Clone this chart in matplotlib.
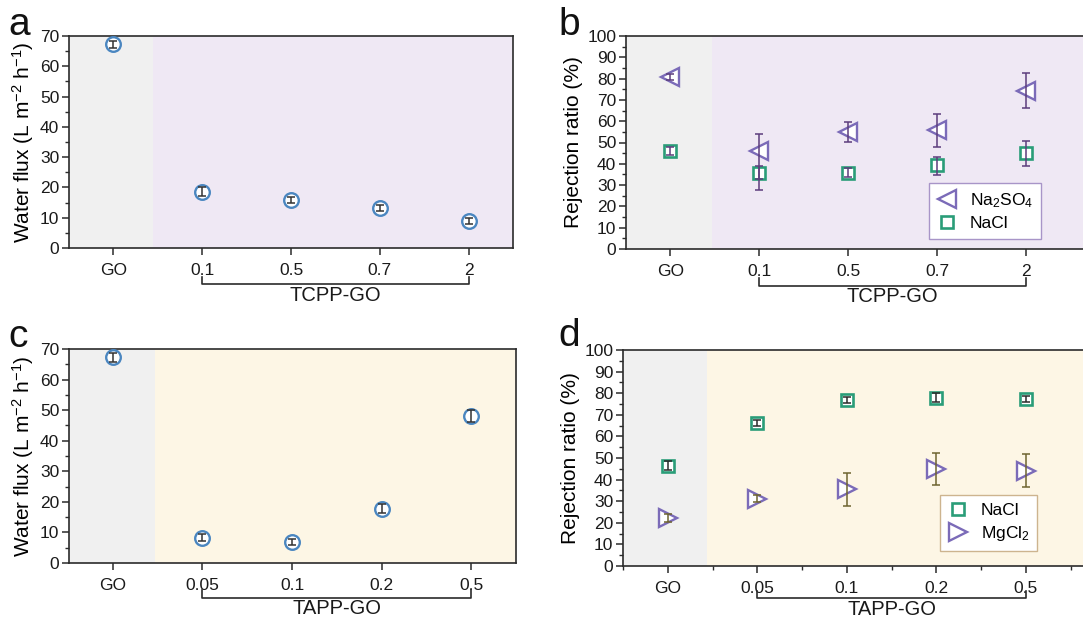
#!/usr/bin/env python3
import numpy as np
import matplotlib.pyplot as plt
from matplotlib.ticker import MultipleLocator
import matplotlib.transforms as mtransforms

plt.rcParams['font.family'] = ['Liberation Sans', 'DejaVu Sans']
plt.rcParams['mathtext.default'] = 'regular'

# ---- data ----
tcpp_labels = ['GO', '0.1', '0.5', '0.7', '2']
tapp_labels = ['GO', '0.05', '0.1', '0.2', '0.5']

# (a) water flux, TCPP-GO
flux_tcpp = [67.3, 18.6, 15.7, 13.3, 9.0]
flux_tcpp_err = [1.2, 1.5, 1.0, 1.0, 1.0]

# (b) rejection, TCPP-GO
na2so4_tcpp = [80.8, 45.8, 55.0, 55.9, 74.4]
na2so4_tcpp_lo = [1.5, 18.0, 4.8, 7.8, 8.3]
na2so4_tcpp_hi = [1.5, 8.1, 4.7, 7.4, 8.1]
nacl_tcpp = [46.1, 35.9, 35.9, 39.4, 45.0]
nacl_tcpp_lo = [2.0, 3.0, 2.0, 4.6, 5.9]
nacl_tcpp_hi = [2.0, 3.0, 2.0, 4.0, 5.6]

# (c) water flux, TAPP-GO
flux_tapp = [67.3, 8.3, 7.0, 17.7, 48.2]
flux_tapp_err = [1.5, 1.2, 1.0, 1.5, 2.0]

# (d) rejection, TAPP-GO
nacl_tapp = [46.4, 66.2, 76.8, 77.9, 77.3]
nacl_tapp_err = [2.0, 1.5, 1.5, 2.0, 1.5]
mgcl2_tapp = [22.3, 31.2, 35.5, 44.8, 44.2]
mgcl2_tapp_lo = [2.0, 1.5, 7.7, 7.2, 7.7]
mgcl2_tapp_hi = [2.0, 1.5, 7.5, 7.3, 7.7]

GRAY_BG = '#f0f0f0'
PURPLE_BG = '#efe8f4'
CREAM_BG = '#fdf6e5'
BLUE = '#4a86c0'
PURPLE = '#7b6bb8'
GREEN = '#2a9d78'
SPINE = '#2b2b2b'


def style_axes(ax, xlim, ylim, ymaj, split, bg, full_right=True, xminor=False):
    ax.set_xlim(*xlim)
    ax.set_ylim(*ylim)
    ax.axvspan(xlim[0], split, color=GRAY_BG, lw=0, zorder=0)
    ax.axvspan(split, xlim[1], color=bg, lw=0, zorder=0)
    ax.yaxis.set_major_locator(MultipleLocator(ymaj))
    ax.yaxis.set_minor_locator(MultipleLocator(ymaj / 2))
    if xminor:
        ax.xaxis.set_minor_locator(MultipleLocator(0.5))
    ax.tick_params(which='major', direction='out', length=5, width=1.1,
                   colors=SPINE, labelsize=12.5, labelcolor='#1a1a1a')
    ax.tick_params(which='minor', direction='out', length=2.8, width=1.0, colors=SPINE)
    ax.tick_params(axis='x', pad=6)
    ax.tick_params(axis='y', pad=2)
    for s in ax.spines.values():
        s.set_color(SPINE)
        s.set_linewidth(1.2)
    if not full_right:
        ax.spines['right'].set_visible(False)


def bracket(ax, x0, x1, label, line_y=-0.172, text_y=-0.222):
    trans = mtransforms.blended_transform_factory(ax.transData, ax.transAxes)
    ax.plot([x0, x0, x1, x1], [line_y + 0.035, line_y, line_y, line_y + 0.035],
            color=SPINE, lw=1.2, transform=trans, clip_on=False)
    ax.text((x0 + x1) / 2, text_y, label, transform=trans, ha='center', va='center',
            fontsize=14.5, color='#1a1a1a')


def main():
    fig = plt.figure(figsize=(10.83, 6.21), dpi=100)
    W, H = 1083, 621

    def add_ax(l, t, r, b):
        return fig.add_axes([l / W, 1 - b / H, (r - l) / W, (b - t) / H])

    ax_a = add_ax(69, 36, 513, 248)
    ax_b = add_ax(626, 36, 1084, 249)
    ax_c = add_ax(69, 349, 516, 563)
    ax_d = add_ax(623, 350, 1084, 566)

    x = np.arange(5)

    # (a)
    style_axes(ax_a, (-0.5, 4.5), (0, 70), 10, 0.45, PURPLE_BG)
    ax_a.plot(x, flux_tcpp, 'o', ms=10.5, mfc='white', mec=BLUE, mew=1.7, zorder=3)
    ax_a.errorbar(x, flux_tcpp, yerr=flux_tcpp_err, fmt='none', ecolor='#333333',
                  elinewidth=1.1, capsize=3, capthick=1.1, zorder=4)
    ax_a.set_xticks(x)
    ax_a.set_xticklabels(tcpp_labels)
    ax_a.set_ylabel('Water flux (L m$^{-2}$ h$^{-1}$)', fontsize=15, labelpad=3)
    bracket(ax_a, 1, 4, 'TCPP-GO')

    # (b)
    style_axes(ax_b, (-0.5, 4.65), (0, 100), 10, 0.47, PURPLE_BG, full_right=False)
    ax_b.plot(x, na2so4_tcpp, '<', ms=12.5, mfc='white', mec=PURPLE, mew=1.7,
              zorder=3, label='Na$_2$SO$_4$')
    ax_b.plot(x, nacl_tcpp, 's', ms=9, mfc='white', mec=GREEN, mew=1.9,
              zorder=3, label='NaCl')
    ax_b.errorbar(x, na2so4_tcpp, yerr=[na2so4_tcpp_lo, na2so4_tcpp_hi], fmt='none',
                  ecolor='#5c3d7c', elinewidth=1.1, capsize=3, capthick=1.1, zorder=4)
    ax_b.errorbar(x, nacl_tcpp, yerr=[nacl_tcpp_lo, nacl_tcpp_hi], fmt='none',
                  ecolor='#5c3d7c', elinewidth=1.1, capsize=3, capthick=1.1, zorder=4)
    ax_b.set_xticks(x)
    ax_b.set_xticklabels(tcpp_labels)
    ax_b.set_ylabel('Rejection ratio (%)', fontsize=15, labelpad=3)
    bracket(ax_b, 1, 4, 'TCPP-GO')
    leg = ax_b.legend(loc='lower left', bbox_to_anchor=(0.661, 0.047), borderaxespad=0,
                      fontsize=12.5, fancybox=False, framealpha=1, edgecolor='#a895c8',
                      handletextpad=0.7, borderpad=0.45, labelspacing=0.35,
                      handlelength=1.2)
    leg.get_frame().set_linewidth(1.0)

    # (c)
    style_axes(ax_c, (-0.49, 4.5), (0, 70), 10, 0.47, CREAM_BG)
    ax_c.plot(x, flux_tapp, 'o', ms=10.5, mfc='white', mec=BLUE, mew=1.7, zorder=3)
    ax_c.errorbar(x, flux_tapp, yerr=flux_tapp_err, fmt='none', ecolor='#333333',
                  elinewidth=1.1, capsize=3, capthick=1.1, zorder=4)
    ax_c.set_xticks(x)
    ax_c.set_xticklabels(tapp_labels)
    ax_c.set_ylabel('Water flux (L m$^{-2}$ h$^{-1}$)', fontsize=15, labelpad=3)
    bracket(ax_c, 1, 4, 'TAPP-GO', line_y=-0.162, text_y=-0.214)

    # (d)
    style_axes(ax_d, (-0.5, 4.65), (0, 100), 10, 0.44, CREAM_BG, full_right=False,
               xminor=True)
    ax_d.plot(x, nacl_tapp, 's', ms=9, mfc='white', mec=GREEN, mew=1.9,
              zorder=3, label='NaCl')
    ax_d.plot(x, mgcl2_tapp, '>', ms=12.5, mfc='white', mec=PURPLE, mew=1.7,
              zorder=3, label='MgCl$_2$')
    ax_d.errorbar(x, nacl_tapp, yerr=nacl_tapp_err, fmt='none', ecolor='#2b2b2b',
                  elinewidth=1.1, capsize=3, capthick=1.1, zorder=4)
    ax_d.errorbar(x, mgcl2_tapp, yerr=[mgcl2_tapp_lo, mgcl2_tapp_hi], fmt='none',
                  ecolor='#6e6430', elinewidth=1.1, capsize=3, capthick=1.1, zorder=4)
    ax_d.set_xticks(x)
    ax_d.set_xticklabels(tapp_labels)
    ax_d.set_ylabel('Rejection ratio (%)', fontsize=15, labelpad=3)
    bracket(ax_d, 1, 4, 'TAPP-GO', line_y=-0.150, text_y=-0.203)
    leg = ax_d.legend(loc='lower left', bbox_to_anchor=(0.687, 0.069), borderaxespad=0,
                      fontsize=12.5, fancybox=False, framealpha=1, edgecolor='#cdb48f',
                      handletextpad=0.7, borderpad=0.45, labelspacing=0.35,
                      handlelength=1.2)
    leg.get_frame().set_linewidth(1.0)

    # panel letters
    for lab, px, py in [('a', 8, 25), ('b', 558, 25), ('c', 8, 337), ('d', 558, 336)]:
        fig.text(px / W, 1 - py / H, lab, fontsize=28, ha='left', va='center',
                 color='#111111')

    plt.savefig('out.png', dpi=100)
    print('Saved figure to out.png')


if __name__ == '__main__':
    main()
